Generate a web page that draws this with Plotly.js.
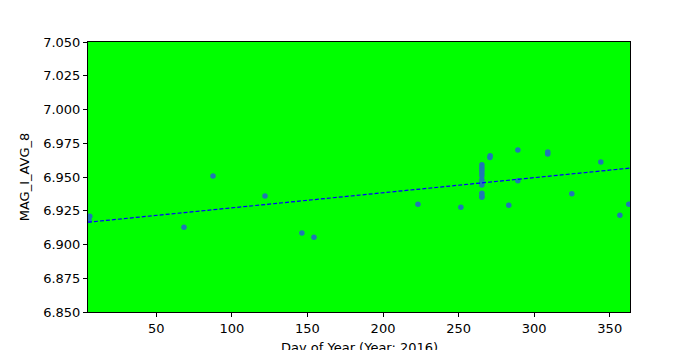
<!DOCTYPE html>
<html>
<head>
<meta charset="utf-8">
<script src="https://cdn.plot.ly/plotly-3.0.1.min.js"></script>
<style>html,body{margin:0;padding:0;background:#fff;}#chart{width:700px;height:350px;}</style>
</head>
<body>
<div id="chart"></div>
<script>
// Day of year (2016)
const dayOfYear = [5, 5.5, 6, 68.3, 87.5, 121.9, 146.3, 154.3, 223.1, 251.5,
  265.4, 265.4, 265.4, 265.4, 265.4, 265.4, 265.4, 265.4, 265.4, 265.4, 265.4,
  270.7, 270.9, 283.2, 289.2, 289.2, 309, 309, 324.9, 344.1, 356.7, 362.6];
// MAG_I_AVG_8 values
const magValues = [6.920, 6.918, 6.921, 6.9127, 6.9507, 6.936, 6.9085, 6.9053, 6.9299, 6.9276,
  6.959, 6.957, 6.955, 6.953, 6.951, 6.948, 6.946, 6.944, 6.938, 6.936, 6.935,
  6.9645, 6.9658, 6.9291, 6.970, 6.9472, 6.967, 6.9685, 6.9375, 6.9611, 6.9217, 6.9299];
const xRange = [4.8, 363.4];
const yRange = [6.85, 7.05];
const xTicks = [50, 100, 150, 200, 250, 300, 350];
const yTicks = [6.850, 6.875, 6.900, 6.925, 6.950, 6.975, 7.000, 7.025, 7.050];
// linear trend (fit), at the ends of the x range
const trendDays = [4.8, 363.4];
const trendValues = [6.9165, 6.9566];
const xTitle = 'Day of Year (Year: 2016)';
const yTitle = 'MAG_I_AVG_8';

const font = {family: 'DejaVu Sans, sans-serif', size: 13, color: '#000'};
Plotly.newPlot('chart', [
  {x: dayOfYear, y: magValues, type: 'scatter', mode: 'markers',
   marker: {color: '#1f77b4', size: 5.5}, hoverinfo: 'none', cliponaxis: true},
  {x: trendDays, y: trendValues, type: 'scatter', mode: 'lines',
   line: {color: '#0000ff', width: 1.2, dash: '4px,2px'}, hoverinfo: 'none'}
], {
  width: 700, height: 350,
  margin: {l: 88, r: 70, t: 42, b: 38},
  paper_bgcolor: '#ffffff', plot_bgcolor: '#00ff00',
  showlegend: false,
  font: font,
  xaxis: {range: xRange, tickvals: xTicks, ticktext: xTicks.map(String),
    ticks: 'outside', ticklen: 4, tickwidth: 1, tickcolor: '#000',
    showgrid: false, zeroline: false, showline: true, linecolor: '#000', linewidth: 1, mirror: true,
    tickfont: font},
  yaxis: {range: yRange, tickvals: yTicks, ticktext: yTicks.map(v => v.toFixed(3)),
    ticks: 'outside', ticklen: 4, tickwidth: 1, tickcolor: '#000',
    showgrid: false, zeroline: false, showline: true, linecolor: '#000', linewidth: 1, mirror: true,
    tickfont: font,
    title: {text: yTitle, font: font, standoff: 10}},
  annotations: [{text: xTitle, xref: 'paper', yref: 'paper', x: 0.5, y: -0.096,
    xanchor: 'center', yanchor: 'top', showarrow: false, font: font}]
}, {staticPlot: true});
</script>
</body>
</html>
